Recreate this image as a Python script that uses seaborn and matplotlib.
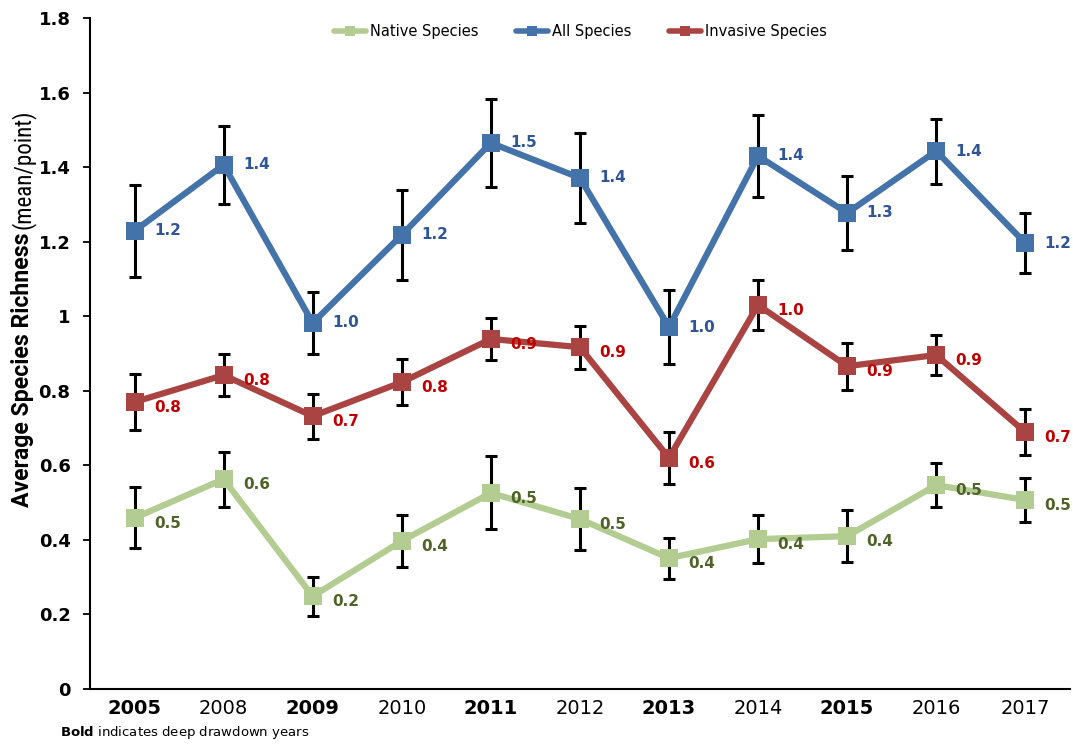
import pandas as pd
import numpy as np
import matplotlib
matplotlib.use("Agg")
import matplotlib.pyplot as plt
from matplotlib.lines import Line2D
import seaborn as sns

years = ["2005", "2008", "2009", "2010", "2011", "2012", "2013", "2014", "2015", "2016", "2017"]
deep_years = ["2005", "2009", "2011", "2013", "2015"]

all_mean = [1.229, 1.406, 0.982, 1.218, 1.465, 1.371, 0.971, 1.430, 1.277, 1.443, 1.196]
all_err = [0.123, 0.105, 0.082, 0.120, 0.118, 0.120, 0.100, 0.109, 0.100, 0.087, 0.080]

inv_mean = [0.770, 0.842, 0.732, 0.823, 0.939, 0.917, 0.620, 1.030, 0.866, 0.896, 0.689]
inv_err = [0.074, 0.056, 0.060, 0.062, 0.056, 0.058, 0.070, 0.068, 0.063, 0.054, 0.062]

nat_mean = [0.459, 0.563, 0.249, 0.397, 0.526, 0.456, 0.351, 0.402, 0.410, 0.547, 0.507]
nat_err = [0.082, 0.074, 0.052, 0.071, 0.098, 0.083, 0.055, 0.064, 0.070, 0.060, 0.058]

series_names = ["Native Species", "All Species", "Invasive Species"]
line_colors = {"Native Species": "#B3CC92", "All Species": "#4473AA", "Invasive Species": "#A94442"}
label_colors = {"Native Species": "#4F6228", "All Species": "#2F5597", "Invasive Species": "#C00000"}

y_ticks = [0, 0.2, 0.4, 0.6, 0.8, 1.0, 1.2, 1.4, 1.6, 1.8]
y_tick_labels = ["0", "0.2", "0.4", "0.6", "0.8", "1", "1.2", "1.4", "1.6", "1.8"]

# long-form table
means = {"Native Species": nat_mean, "All Species": all_mean, "Invasive Species": inv_mean}
errs = {"Native Species": nat_err, "All Species": all_err, "Invasive Species": inv_err}
rows = []
for s in series_names:
    for i, yr in enumerate(years):
        rows.append({"pos": i, "year": yr, "series": s, "value": means[s][i], "err": errs[s][i]})
df = pd.DataFrame(rows)

sns.set_theme(style="white")
plt.rcParams["font.family"] = ["DejaVu Sans"]
plt.rcParams["mathtext.fontset"] = "dejavusans"
plt.rcParams["text.color"] = "black"

fig = plt.figure(figsize=(10.73, 7.44), dpi=100)
ax = fig.add_axes([0.0839, 0.0739, 0.9131, 0.9019])

# error bars behind the markers
for s in series_names:
    d = df[df["series"] == s]
    ax.errorbar(d["pos"], d["value"], yerr=d["err"], fmt="none", ecolor="black",
                elinewidth=2.2, capsize=4, capthick=2.2, zorder=2)

sns.lineplot(data=df, x="pos", y="value", hue="series", hue_order=series_names,
             palette=line_colors, marker="s", markersize=13, markeredgewidth=0,
             linewidth=4.5, legend=False, ax=ax, zorder=3)

# data labels
for s in series_names:
    d = df[df["series"] == s]
    for _, r in d.iterrows():
        dy = 0 if s == "All Species" else -4
        ax.annotate(f"{r['value']:.1f}", (r["pos"], r["value"]), xytext=(14, dy),
                    textcoords="offset points", ha="left", va="center",
                    fontsize=11, fontweight="bold", color=label_colors[s], zorder=4)

ax.set_xlim(-0.5, len(years) - 0.5)
ax.set_ylim(0, 1.8)
ax.set_yticks(y_ticks)
ax.set_yticklabels(y_tick_labels, fontsize=13, fontweight="bold")
ax.set_xticks(range(len(years)))
ax.set_xticklabels(years, fontsize=14)
for lbl in ax.get_xticklabels():
    if lbl.get_text() in deep_years:
        lbl.set_fontweight("bold")
ax.tick_params(axis="y", length=5, width=1.3, color="black", direction="out", left=True,
               pad=9, labelcolor="black")
ax.tick_params(axis="x", length=0, pad=7, labelcolor="black")

for sp in ["top", "right"]:
    ax.spines[sp].set_visible(False)
for sp in ["left", "bottom"]:
    ax.spines[sp].set_color("black")
    ax.spines[sp].set_linewidth(1.5)

ax.set_xlabel("")
ax.set_ylabel("")

# y label: bold part + regular part, sized so the bold part spans ~275 px
renderer = fig.canvas.get_renderer()
t1 = fig.text(0.021, 0.318, "Average Species Richness", rotation=90, ha="center", va="bottom",
              fontsize=16, fontweight="bold", family="Roboto")
fig.canvas.draw()
h = t1.get_window_extent(renderer).height
fs = 16 * 275 / h
t1.set_fontsize(fs)
fig.canvas.draw()
bb = t1.get_window_extent(renderer)
top = (bb.y1 + 4) / fig.bbox.height
fig.text(0.021, top, "(mean/point)", rotation=90, ha="center", va="bottom",
         fontsize=fs, family="Roboto Condensed")

handles = [Line2D([0], [0], color=line_colors[s], lw=4, marker="s", markersize=7,
                  markeredgewidth=0) for s in series_names]
fig.legend(handles, series_names, loc="center", bbox_to_anchor=(0.541, 0.958), ncol=3,
           frameon=False, fontsize=10.5, handlelength=2.2, handletextpad=0.25, columnspacing=2.6)

fig.text(0.056, 0.0148, r"$\bf{Bold}$ indicates deep drawdown years", fontsize=9.5,
         ha="left", va="center")

fig.savefig("out.png", dpi=100)
